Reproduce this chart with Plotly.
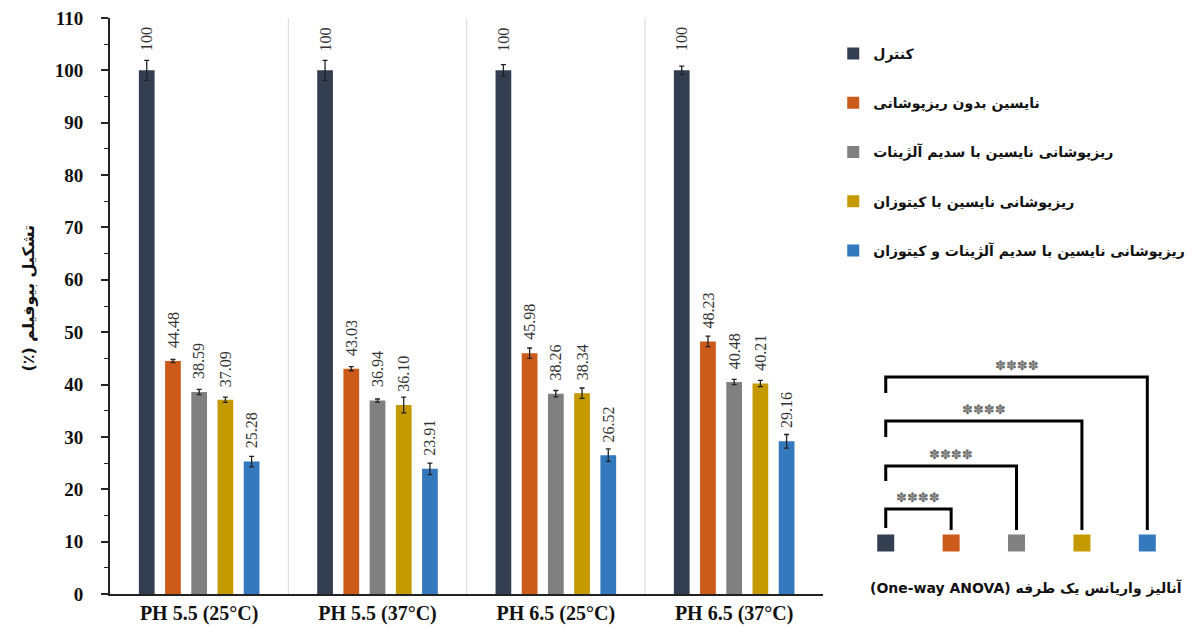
import plotly.graph_objects as go

# ---- data ----
conditions = ["PH 5.5 (25°C)", "PH 5.5 (37°C)", "PH 6.5 (25°C)", "PH 6.5 (37°C)"]
series_names = [
    "کنترل",
    "نایسین بدون ریزپوشانی",
    "ریزپوشانی نایسین با سدیم آلژینات",
    "ریزپوشانی نایسین با کیتوزان",
    "ریزپوشانی نایسین با سدیم آلژینات و کیتوزان",
]
control = [100, 100, 100, 100]
nisin_free = [44.48, 43.03, 45.98, 48.23]
nisin_alginate = [38.59, 36.94, 38.26, 40.48]
nisin_chitosan = [37.09, 36.10, 38.34, 40.21]
nisin_alg_chi = [25.28, 23.91, 26.52, 29.16]

control_err = [1.9, 1.9, 1.1, 0.8]
nisin_free_err = [0.3, 0.4, 1.0, 1.0]
nisin_alginate_err = [0.5, 0.3, 0.6, 0.5]
nisin_chitosan_err = [0.5, 1.5, 1.0, 0.6]
nisin_alg_chi_err = [1.0, 1.1, 1.2, 1.3]

y_ticks = list(range(0, 111, 10))

# one-way ANOVA comparisons (control vs. each treatment)
anova_pairs = [(0, 1), (0, 2), (0, 3), (0, 4)]
anova_marks = ["✽✽✽✽"] * 4
anova_caption = "\u202bآنالیز واریانس یک طرفه (One-way ANOVA)\u202c"
y_title = "\u202bتشکیل بیوفیلم (٪)\u202c"

# ---- styling ----
colors = ["#333F50", "#CC5A1A", "#808080", "#C49A00", "#3479BE"]
serif = "Liberation Serif, DejaVu Serif, DejaVu Sans"
persian = "DejaVu Sans, Liberation Serif"
BARGAP = 0.265
BARGROUPGAP = 0.4

values = [control, nisin_free, nisin_alginate, nisin_chitosan, nisin_alg_chi]
errors = [control_err, nisin_free_err, nisin_alginate_err, nisin_chitosan_err, nisin_alg_chi_err]

fig = go.Figure()
for i, (name, vals, errs) in enumerate(zip(series_names, values, errors)):
    fig.add_trace(go.Bar(
        x=conditions, y=vals, name=name,
        marker=dict(color=colors[i], line=dict(width=0)),
        error_y=dict(type="data", array=errs, visible=True,
                     color="#222222", thickness=1.3, width=2.5),
        legendgroup=f"g{i}",
        xaxis="x", yaxis="y",
    ))

# value labels above each bar, rotated
n_series = len(values)
slot = (1 - BARGAP) / n_series
annotations = []
for i, vals in enumerate(values):
    for j, v in enumerate(vals):
        txt = f"{v:.2f}" if v != int(v) else f"{int(v)}"
        annotations.append(dict(
            x=j + (i - (n_series - 1) / 2) * slot, y=v, xref="x", yref="y",
            text=txt, showarrow=False, textangle=-90,
            xanchor="center", yanchor="middle", yshift=31,
            font=dict(family=serif, size=16, color="#333333"),
        ))

# category separators
shapes = []
for k in range(len(conditions) - 1):
    shapes.append(dict(type="line", xref="x", yref="y", x0=k + 0.5, x1=k + 0.5,
                       y0=0, y1=110, line=dict(color="#D9D9D9", width=1), layer="below"))

# ---- ANOVA bracket diagram (own axes) ----
square_level = 0
bracket_levels = [34, 77, 122, 166]
left_drop = [19, 15, 16, 16]
right_end = 13
for (a, b), lvl, ld in zip(anova_pairs, bracket_levels, left_drop):
    fig.add_trace(go.Scatter(
        x=[a, a, b, b], y=[lvl - ld, lvl, lvl, right_end],
        mode="lines", line=dict(color="black", width=3),
        xaxis="x2", yaxis="y2", showlegend=False, hoverinfo="skip",
    ))
for (a, b), lvl, mark in zip(anova_pairs, bracket_levels, anova_marks):
    annotations.append(dict(
        x=(a + b) / 2, y=lvl, xref="x2", yref="y2", text=mark, showarrow=False,
        yshift=12, font=dict(family="DejaVu Sans", size=13, color="#707070"),
    ))
fig.add_trace(go.Scatter(
    x=list(range(n_series)), y=[square_level] * n_series, mode="markers",
    marker=dict(symbol="square", size=17, color=colors, line=dict(width=0)),
    xaxis="x2", yaxis="y2", showlegend=False, hoverinfo="skip",
))

# axis title and caption
annotations.append(dict(
    x=-0.076, y=0.514, xref="paper", yref="paper", text=y_title, showarrow=False,
    textangle=-90, xanchor="center", yanchor="middle",
    font=dict(family=persian, size=16, color="#111111", weight="bold"),
))
annotations.append(dict(
    x=0.857, y=(594 - 588) / 576, xref="paper", yref="paper", text=anova_caption,
    showarrow=False, xanchor="center", yanchor="middle",
    font=dict(family=persian, size=14, color="#111111", weight="bold"),
))

PAPER_W = 1195 - 110 - 5
fig.update_layout(
    width=1195, height=632,
    margin=dict(l=110, r=5, t=18, b=38),
    paper_bgcolor="white", plot_bgcolor="white",
    barmode="group", bargap=BARGAP, bargroupgap=BARGROUPGAP,
    xaxis=dict(
        domain=[0, 720 / PAPER_W], type="category", range=[-0.5, 3.5],
        showline=True, linecolor="#222222", linewidth=2, ticks="",
        showgrid=False, zeroline=False,
        tickfont=dict(family=serif, size=20, color="#111111", weight="bold"),
    ),
    yaxis=dict(
        range=[0, 110], tickvals=y_ticks, showline=True, linecolor="#222222", linewidth=2,
        ticks="outside", ticklen=7, tickwidth=1.5, tickcolor="#222222",
        minor=dict(dtick=5, ticks="outside", ticklen=4, tickwidth=1.2, tickcolor="#222222"),
        showgrid=False, zeroline=False, ticklabelstandoff=14,
        tickfont=dict(family=serif, size=19, color="#111111", weight="bold"),
    ),
    xaxis2=dict(domain=[(860 - 110) / PAPER_W, 1.0], range=[-0.5, 4.5], anchor="y2",
                visible=False, fixedrange=True),
    yaxis2=dict(domain=[0, 1], range=[-51, 525], anchor="x2", visible=False, fixedrange=True),
    legend=dict(
        x=(840 - 110) / PAPER_W, y=(594 - 38) / 576, xanchor="left", yanchor="top",
        font=dict(family=persian, size=14, color="#111111", weight="bold"),
        tracegroupgap=28, bgcolor="rgba(0,0,0,0)",
    ),
    shapes=shapes,
    annotations=annotations,
    showlegend=True,
)

fig.write_html("out.html")
